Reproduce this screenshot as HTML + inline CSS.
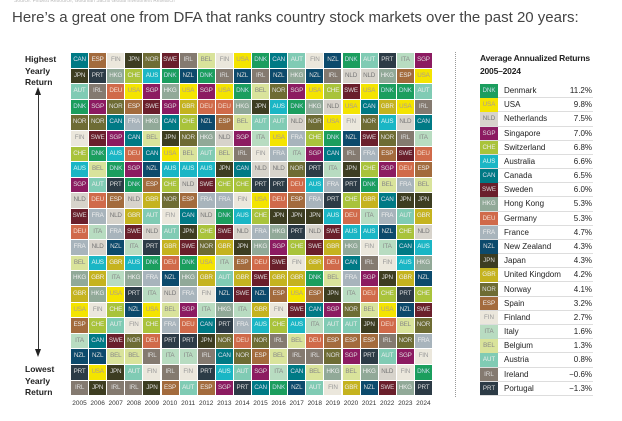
<!DOCTYPE html>
<html><head><meta charset="utf-8"><style>
body{margin:0;width:622px;height:421px;background:#fff;font-family:"Liberation Sans",sans-serif;position:relative;overflow:hidden}
.c{position:absolute;width:17.1px;height:14.6px;font-size:6.3px;line-height:14.6px;text-align:center;letter-spacing:-0.2px}
.y{position:absolute;top:400px;font-size:6.5px;width:18px;text-align:center;color:#333}
.ax{position:absolute;left:25px;font-size:8.5px;font-weight:bold;color:#222;line-height:11.5px}
.lr{position:absolute;left:480px;width:113px;height:13.2px;border-bottom:1px solid #ddd;font-size:8px;line-height:13.2px;color:#222}
.lr .s{position:absolute;left:0;top:0;width:18px;height:13.5px;font-size:6.2px;text-align:center}
.lr .n{position:absolute;left:24px}
.lr .v{position:absolute;right:1px}
</style></head><body>
<div style="position:absolute;left:14px;top:-2px;font-size:5px;color:#bbb">Source: Finbest Resource, Goldman Sachs Global Investment Research</div>
<div style="position:absolute;left:12px;top:9px;font-size:15px;color:#444;white-space:nowrap">Here’s a great one from DFA that ranks country stock markets over the past 20 years:</div>
<div class="ax" style="top:54px">Highest<br>Yearly<br>Return</div>
<div class="ax" style="top:364px">Lowest<br>Yearly<br>Return</div>
<div style="position:absolute;left:37.5px;top:94px;width:1px;height:256px;background:#333"></div>
<div style="position:absolute;left:34.5px;top:87px;border-left:3.5px solid transparent;border-right:3.5px solid transparent;border-bottom:8px solid #222"></div>
<div style="position:absolute;left:34.5px;top:349px;border-left:3.5px solid transparent;border-right:3.5px solid transparent;border-top:8px solid #222"></div>
<div style="position:absolute;left:455px;top:52px;height:345px;border-left:1px dotted #999"></div>
<div style="position:absolute;left:480px;top:52px;font-size:8.5px;font-weight:bold;color:#222;line-height:13px;letter-spacing:-0.2px">Average Annualized Returns<br>2005–2024</div>
<div id="g"></div>
<script>
var C={DNK:["#1b9e5e","#cde"],USA:["#f4e400","#a99"],NLD:["#d7d3cb","#777"],SGP:["#8c1b61","#ddd"],CHE:["#a9c33b","#eee"],AUS:["#1ab6c5","#e6f6f6"],CAN:["#007a85","#dde"],SWE:["#6a1f2b","#ddd"],HKG:["#91a998","#eee"],DEU:["#d06a4a","#f3ddd0"],FRA:["#a8b4bc","#eee"],NZL:["#0c4a6c","#ddd"],JPN:["#3d3d21","#ddd"],GBR:["#c5b31f","#eee"],NOR:["#6e6c34","#ddd"],ESP:["#a36b3d","#eee"],FIN:["#ebe7dc","#999"],ITA:["#b8dcc1","#888"],BEL:["#d9e39b","#888"],AUT:["#80cbb4","#eee"],IRL:["#847a70","#ddd"],PRT:["#2c3b46","#ddd"]};
var R=[
"CAN ESP FIN JPN NOR SWE IRL BEL FIN USA DNK CAN AUT FIN NZL DNK AUT PRT ITA SGP",
"JPN PRT HKG CHE AUS DNK NZL DNK IRL NZL IRL NZL HKG NZL IRL NLD NLD HKG ESP USA",
"AUT IRL DEU USA SGP HKG USA SGP USA DNK BEL NOR SGP USA CHE SWE USA DNK DNK AUT",
"DNK SGP NOR ESP SWE SGP GBR DEU DEU HKG JPN AUS DNK HKG NLD USA CAN GBR USA IRL",
"NOR NOR CAN FRA HKG CAN CHE NZL ESP BEL AUT AUT NLD NOR USA FIN NOR AUS NLD CAN",
"FIN SWE SGP CAN BEL JPN NOR HKG NLD SGP ITA USA FRA CHE DNK NZL SWE NOR IRL ITA",
"CHE DNK AUS DEU CAN USA BEL AUT BEL IRL FIN FRA ITA SGP CAN IRL FRA ESP SWE DEU",
"AUS BEL DNK SGP NZL AUS AUS AUS JPN CAN NLD NLD NOR PRT ITA JPN CHE SGP DEU ESP",
"SGP AUT PRT DNK ESP CHE NLD SWE CHE CHE PRT PRT DEU AUS FRA PRT DNK BEL FRA BEL",
"NLD DEU ESP NLD GBR NOR ESP FRA FRA FIN USA DEU ESP FRA PRT CHE GBR CAN JPN JPN",
"SWE FRA NLD GBR AUT FIN CAN NLD DNK AUS CHE JPN JPN JPN AUS DEU ITA FRA AUT GBR",
"DEU ITA FRA SWE NLD AUT JPN CHE SWE NLD FRA HKG PRT NLD SWE AUS AUS NZL CHE NLD",
"FRA NLD NZL ITA PRT GBR SWE NOR GBR JPN HKG SGP CHE SWE GBR HKG FIN ITA CAN AUS",
"BEL AUS GBR AUS DNK DEU DNK USA ITA ESP DEU SWE FIN GBR DEU CAN IRL FIN AUS HKG",
"HKG GBR ITA HKG FRA NZL HKG GBR AUT GBR SWE GBR GBR DNK BEL FRA SGP JPN GBR NZL",
"GBR HKG USA PRT ITA NLD FRA FIN NZL SWE NZL ESP USA ESP JPN ITA DEU CHE PRT CHE",
"USA FIN CHE NZL USA BEL SGP ITA HKG ITA GBR FIN SWE CAN SGP NOR BEL USA NZL SWE",
"ESP CHE AUT FIN CHE FRA DEU CAN PRT FRA AUS CHE AUS ITA AUT AUT JPN DEU BEL NOR",
"ITA CAN SWE NOR DEU PRT PRT JPN NOR DEU NOR IRL BEL DEU ESP ESP ESP IRL NOR FRA",
"NZL NZL BEL BEL IRL ITA ITA IRL CAN NOR ESP BEL IRL IRL NOR SGP PRT AUT SGP FIN",
"PRT USA JPN AUT FIN IRL FIN PRT AUS AUT SGP ITA CAN BEL HKG BEL HKG NLD FIN DNK",
"IRL JPN IRL IRL JPN ESP AUT ESP SGP PRT CAN DNK NZL AUT FIN GBR NZL SWE HKG PRT"];
var h="";
R.forEach(function(r,i){r.split(" ").forEach(function(k,j){var c=C[k];
h+='<div class="c" style="left:'+(71+j*18.1).toFixed(1)+'px;top:'+(53+i*15.6).toFixed(1)+'px;background:'+c[0]+';color:'+c[1]+'">'+k+'</div>';});});
for(var j=0;j<20;j++)h+='<div class="y" style="left:'+(70.5+j*18.1).toFixed(1)+'px">'+(2005+j)+'</div>';
var L=[["DNK","Denmark","11.2%"],["USA","USA","9.8%"],["NLD","Netherlands","7.5%"],["SGP","Singapore","7.0%"],["CHE","Switzerland","6.8%"],["AUS","Australia","6.6%"],["CAN","Canada","6.5%"],["SWE","Sweden","6.0%"],["HKG","Hong Kong","5.3%"],["DEU","Germany","5.3%"],["FRA","France","4.7%"],["NZL","New Zealand","4.3%"],["JPN","Japan","4.3%"],["GBR","United Kingdom","4.2%"],["NOR","Norway","4.1%"],["ESP","Spain","3.2%"],["FIN","Finland","2.7%"],["ITA","Italy","1.6%"],["BEL","Belgium","1.3%"],["AUT","Austria","0.8%"],["IRL","Ireland","−0.6%"],["PRT","Portugal","−1.3%"]];
L.forEach(function(l,i){var c=C[l[0]];h+='<div class="lr" style="top:'+(84+i*14.18).toFixed(1)+'px"><div class="s" style="background:'+c[0]+';color:'+c[1]+'">'+l[0]+'</div><span class="n">'+l[1]+'</span><span class="v">'+l[2]+'</span></div>';});
document.getElementById("g").innerHTML=h;
</script>
</body></html>
